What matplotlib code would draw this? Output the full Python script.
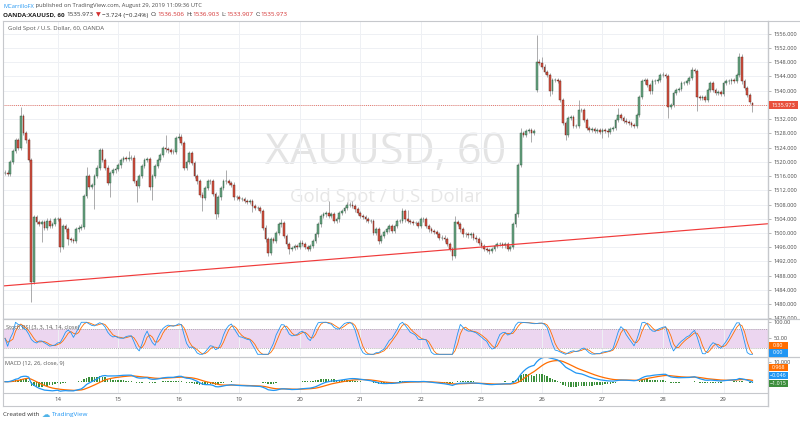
import matplotlib
matplotlib.use('Agg')
import matplotlib.pyplot as plt
from matplotlib.lines import Line2D
from matplotlib.patches import Rectangle
import numpy as np
import pandas as pd

# ---------------- data ----------------
day_labels = ['14', '15', '16', '19', '20', '21', '22', '23', '26', '27', '28', '29']
bars_per_day = [20, 23, 23, 23, 23, 23, 23, 23, 23, 23, 23, 23, 12]   # first = Aug 13 (partial)

closes = [
    # Aug 13
    1517, 1516.5, 1520, 1523, 1526.2, 1524, 1532.8, 1528.1, 1526, 1520.6, 1486.3, 1504.5,
    1503, 1502.5, 1503, 1501.5, 1503.5, 1502, 1502.5, 1504,
    # Aug 14
    1504, 1496, 1502, 1501, 1498.2, 1498, 1497.7, 1501, 1501.5, 1501.8, 1510.3, 1516,
    1513, 1513.5, 1516, 1518.4, 1523.4, 1520.6, 1518.4, 1514, 1516.9, 1517.6, 1518,
    # Aug 15
    1519, 1520.5, 1521, 1520.9, 1521.2, 1521.2, 1514.6, 1513.2, 1516, 1518.8, 1520.6, 1520.8,
    1512.8, 1516, 1518.8, 1520.6, 1522, 1523.9, 1523.5, 1523.2, 1522.9, 1522.8, 1526.7,
    # Aug 16
    1527.1, 1525.3, 1518.3, 1520, 1522.5, 1519.7, 1516, 1514.5, 1510.8, 1509.9, 1512.7, 1514.5,
    1514.5, 1511, 1505.2, 1510, 1512.7, 1514.5, 1514.5, 1514, 1513.6, 1510, 1510,
    # Aug 19
    1509.6, 1509.6, 1509, 1508.7, 1509, 1507.5, 1507, 1507, 1506.2, 1501.5, 1498.2, 1494.3,
    1498.2, 1497.8, 1500, 1502.4, 1502.8, 1499.2, 1496.8, 1495.4, 1495.8, 1496.4, 1496,
    # Aug 20
    1497.3, 1496.8, 1496, 1495.4, 1496.4, 1497.8, 1499.6, 1502.4, 1504.8, 1505.2, 1505.7, 1504.8,
    1505.2, 1503.3, 1503.8, 1505.7, 1506.2, 1507, 1508, 1508, 1507.5, 1506.6, 1505.7,
    # Aug 21
    1504.8, 1504.4, 1503.8, 1503.3, 1503.3, 1500, 1501, 1497.7, 1499.2, 1500.2, 1501, 1501.9,
    1500.5, 1501.9, 1503.3, 1503.3, 1506.1, 1503.8, 1503.3, 1503, 1502.8, 1502.8, 1502,
    # Aug 22
    1503.8, 1503.8, 1502, 1501, 1500.5, 1500.2, 1499.6, 1498.7, 1498.7, 1498.2, 1496.8, 1495.4,
    1493.6, 1503, 1502.5, 1501, 1499.6, 1499.6, 1499.3, 1499.6, 1498.7, 1498.2, 1497.3,
    # Aug 23
    1496.4, 1495.4, 1495.2, 1494.9, 1495.4, 1496.4, 1496.8, 1496.8, 1496.5, 1496.8, 1495.6, 1496,
    1502.4, 1505.2, 1519.2, 1528.1, 1527.6, 1528.6, 1529, 1528.2, 1528.6, 1548.2, 1547.8,
    # Aug 26
    1546.8, 1545.3, 1544.4, 1539.8, 1543, 1543, 1542.8, 1537.4, 1531, 1527.6, 1532.3, 1532.7,
    1530, 1530, 1534.6, 1534.6, 1531.8, 1529.5, 1529, 1529.3, 1528.7, 1529, 1528.3,
    # Aug 27
    1529, 1528.8, 1528.5, 1529.2, 1529.5, 1531.8, 1533.2, 1532.3, 1531.6, 1531.3, 1530.9, 1530.4,
    1530, 1533.2, 1538.3, 1542.6, 1543, 1541.6, 1539.8, 1542.6, 1542.8, 1543, 1544.4,
    # Aug 28
    1544.4, 1544.2, 1535.5, 1535.9, 1539.3, 1540.2, 1540.4, 1542.1, 1542.1, 1542.6, 1543.5, 1545.8,
    1545.6, 1538.3, 1537.9, 1538.3, 1537.4, 1540.2, 1542.1, 1540.2, 1539.3, 1539.5, 1539.1,
    # Aug 29
    1542.1, 1542.6, 1542.6, 1543, 1542.8, 1544.4, 1549.6, 1542.6, 1540.7, 1538.8, 1536.9, 1535.973,
]
open_overrides = {202: 1540.3, 284: 1536.506}
high_overrides = {6: 1535.3, 31: 1518.5, 47: 1523, 61: 1527.6, 66: 1528, 84: 1517.8, 105: 1503.8,
                  123: 1509, 132: 1509, 151: 1507, 153: 1506.5, 171: 1504.8, 196: 1529.5,
                  202: 1555.6, 204: 1549.6, 218: 1537.4, 233: 1535.2, 250: 1545.4, 261: 1546.7,
                  279: 1550.5, 284: 1536.903}
low_overrides = {10: 1480.5, 14: 1497.6, 21: 1494.6, 24: 1496.5, 34: 1506.6, 40: 1510, 50: 1508.6,
                 56: 1509.4, 75: 1506.1, 80: 1504, 94: 1505.8, 100: 1493.4, 108: 1494, 142: 1496.8,
                 170: 1492.5, 184: 1494.2, 200: 1525.5, 207: 1538.5, 213: 1526.2, 227: 1526.8,
                 229: 1527, 252: 1532.4, 263: 1534.2, 284: 1533.907}
wick_pad = 0.6
last_price = 1535.973
trend_x = [0, 285]
trend_y = [1485.15, 1502.3]
price_ticks = list(range(1476, 1557, 4))
hidden_price_labels = [1536]   # covered by the last-price tag in the reference

header_user = 'MCarrilloFX'
header_rest = ' published on TradingView.com, August 29, 2019 11:09:36 UTC'
symbol_txt = 'OANDA:XAUUSD, 60'
ohlc_txt = [('O:', '1536.506'), ('H:', '1536.903'), ('L:', '1533.907'), ('C:', '1535.973')]
change_txt = '\u22123.724 (\u22120.24%)'
stoch_lbls = [('0.80', '#ff6d00', 345.3), ('0.00', '#2196f3', 352.8)]
macd_lbls = [('0.968', '#ff6d00', 367.5), ('\u22120.046', '#2196f3', 375.5), ('\u22121.015', '#3d8f3d', 383.7)]

# ---------------- derived series ----------------
c = np.array(closes, dtype=float)
n = len(c)
idx = np.arange(n)
o = np.r_[c[0], c[:-1]]
for k, v in open_overrides.items():
    o[k] = v
hi = np.maximum(o, c) + wick_pad
lo = np.minimum(o, c) - wick_pad
for k, v in high_overrides.items():
    hi[k] = v
for k, v in low_overrides.items():
    lo[k] = v
day_starts = np.cumsum(bars_per_day)[:-1]

s = pd.Series(c)
delta = s.diff().fillna(0)
up = delta.clip(lower=0).ewm(alpha=1 / 14, adjust=False).mean()
dn = (-delta.clip(upper=0)).ewm(alpha=1 / 14, adjust=False).mean()
rsi = 100 - 100 / (1 + up / dn.replace(0, np.nan))
rsi = rsi.fillna(50)
rmin = rsi.rolling(14, min_periods=1).min()
rmax = rsi.rolling(14, min_periods=1).max()
stoch = (100 * (rsi - rmin) / (rmax - rmin)).fillna(50)
k_line = stoch.rolling(3, min_periods=1).mean()
d_line = k_line.rolling(3, min_periods=1).mean()
macd = s.ewm(span=12, adjust=False).mean() - s.ewm(span=26, adjust=False).mean()
signal = macd.ewm(span=9, adjust=False).mean()
hist = macd - signal

# ---------------- figure ----------------
FONT = ['Open Sans', 'DejaVu Sans']
plt.rcParams['font.family'] = FONT
W, H = 800, 423
fig = plt.figure(figsize=(8, 4.23), dpi=100)
fig.patch.set_facecolor('white')


def fx(px):
    return px / W


def fy(py):
    return 1 - py / H


L, R = 3, 768
ax = fig.add_axes([fx(L), fy(318.5), fx(R - L), (318.5 - 21) / H])
ax_st = fig.add_axes([fx(L), fy(356), fx(R - L), (356 - 319.5) / H], sharex=ax)
ax_m = fig.add_axes([fx(L), fy(393), fx(R - L), (393 - 357) / H], sharex=ax)

GRID = '#eef0f4'
for a in (ax, ax_st, ax_m):
    for sp in a.spines.values():
        sp.set_visible(False)
    a.set_facecolor('none')
    a.set_xticks(day_starts)
    a.grid(axis='x', color=GRID, lw=0.7, zorder=0)
    a.yaxis.tick_right()
    a.tick_params(axis='y', labelsize=4.1, colors='#4a4a4a', length=2.5, width=0.5, pad=1.5)
    a.tick_params(axis='y', color='#9a9a9a')
ax.set_xlim(-0.76, 289.9)

# main pane
ax.set_ylim(1475.95, 1559.6)
ax.set_yticks(price_ticks)
ax.set_yticklabels(['' if v in hidden_price_labels else f'{v:.3f}' for v in price_ticks])
ax.grid(axis='y', color=GRID, lw=0.7, zorder=0)
ax.tick_params(axis='x', length=0, labelbottom=False)

ax.text(0.5007, 0.518, 'XAUUSD, 60', transform=ax.transAxes, ha='center', va='baseline',
        fontsize=31, color='#e4e4e4', family=FONT, zorder=1)
ax.text(0.5007, 0.3906, 'Gold Spot / U.S. Dollar', transform=ax.transAxes, ha='center', va='baseline',
        fontsize=13.4, color='#e6e6e6', family=FONT, zorder=1)

up_mask = c >= o
ax.vlines(idx, lo, hi, color='#8a8a8c', lw=0.5, zorder=3)
ax.bar(idx[up_mask], (c - o)[up_mask], bottom=o[up_mask], width=0.66, color='#6ba583',
       edgecolor='#225437', linewidth=0.3, zorder=4)
ax.bar(idx[~up_mask], (c - o)[~up_mask], bottom=o[~up_mask], width=0.66, color='#d75442',
       edgecolor='#5b1a13', linewidth=0.3, zorder=4)

ax.axhline(last_price, color='#e8503c', lw=0.6, ls=(0, (1, 1.5)), zorder=2)
ax.axline((trend_x[0], trend_y[0]), (trend_x[1], trend_y[1]), color='#f03a3a', lw=0.85, zorder=5)

# stoch RSI pane
ax_st.set_ylim(-5.3, 108.7)
ax_st.axhspan(20, 80, color='#9c27b0', alpha=0.19, lw=0, zorder=1)
for lv in (20, 80):
    ax_st.axhline(lv, color='#9a9a9a', lw=0.5, ls=(0, (1.5, 1.5)), zorder=2)
ax_st.plot(idx, k_line, color='#2196f3', lw=0.6, zorder=4)
ax_st.plot(idx, d_line, color='#ff6d00', lw=0.6, zorder=3)
ax_st.set_yticks([50, 100])
ax_st.set_yticklabels(['50.00', '100.00'])
ax_st.tick_params(axis='x', length=0, labelbottom=False)

# MACD pane
ax_m.set_ylim(-5.65, 12.35)
ax_m.bar(idx, hist, width=0.55, color='#3a8f3a', lw=0, zorder=2)
ax_m.plot(idx, macd, color='#2196f3', lw=0.9, zorder=4)
ax_m.plot(idx, signal, color='#ff6d00', lw=0.9, zorder=3)
ax_m.set_yticks([10])
ax_m.set_yticklabels(['10.000'])
ax_m.set_xticklabels(day_labels)
ax_m.tick_params(axis='x', length=0, labelsize=4.3, colors='#4a4a4a', pad=3)

# borders
BC = '#c6c8cc'
for (x0, y0, x1, y1, lw) in [(3, 21, 800, 21, 0.8), (3, 21, 3, 406, 0.8), (3, 319, 800, 319, 0.9),
                             (3, 356.5, 800, 356.5, 0.9), (3, 393, 768, 393, 0.8), (3, 406, 768, 406, 0.8),
                             (768, 21, 768, 406, 1.0)]:
    fig.add_artist(Line2D([fx(x0), fx(x1)], [fy(y0), fy(y1)], color=BC, lw=lw))


def box(y_px, txt, fc, x0=768.5, w=19.5, h=7.5, size=3.9):
    fig.add_artist(Rectangle((fx(x0), fy(y_px + h / 2)), fx(w), h / H, facecolor=fc, edgecolor='none',
                             transform=fig.transFigure, zorder=20))
    fig.text(fx(x0 + w / 2), fy(y_px), txt, color='white', fontsize=size, ha='center', va='center', zorder=21)


price_y = 21 + (1559.6 - last_price) / (1559.6 - 1475.95) * (318.5 - 21)
box(price_y, f'{last_price:.3f}', '#e8503c', w=29, h=8, size=4.1)
for t, col, y in stoch_lbls:
    box(y, t, col)
for t, col, y in macd_lbls:
    box(y, t, col)

# titles
fig.text(fx(8), fy(28.3), 'Gold Spot / U.S. Dollar, 60, OANDA', fontsize=4.3, color='#555555', va='center')
fig.text(fx(6), fy(327.5), 'Stoch RSI (3, 3, 14, 14, close)', fontsize=4.1, color='#555555', va='center', zorder=10)
fig.text(fx(5), fy(363), 'MACD (12, 26, close, 9)', fontsize=4.1, color='#555555', va='center')

renderer = fig.canvas.get_renderer()


def seq(x_px, y_px, parts, size):
    x = x_px
    for txt, col, wt, gap in parts:
        t = fig.text(fx(x), fy(y_px), txt, color=col, fontsize=size, fontweight=wt, va='center', ha='left')
        x += t.get_window_extent(renderer).width + gap
    return x


seq(3, 6, [(header_user, '#2196f3', 'normal', 0), (header_rest, '#4a4a4a', 'normal', 0)], 4.15)
parts = [(symbol_txt, '#222222', 'bold', 2), (f'{last_price:.3f}', '#333333', 'normal', 2),
         ('\u25bc', '#d32f2f', 'normal', 2), (change_txt, '#333333', 'normal', 2)]
for lab, val in ohlc_txt:
    parts.append((lab, '#333333', 'normal', 0))
    parts.append((val, '#d32f2f', 'normal', 2))
seq(3, 15, parts, 4.5)

x_end = seq(3, 414.5, [('Created with ', '#333333', 'normal', 1)], 4.4)
fig.text(fx(x_end), fy(414.5), '\u2601', fontsize=6, color='#4fb3e8', va='center', family=['DejaVu Sans'])
fig.text(fx(x_end + 10), fy(414.5), 'TradingView', fontsize=4.6, color='#2196f3', va='center')

fig.savefig('out.png', dpi=100, facecolor='white')
